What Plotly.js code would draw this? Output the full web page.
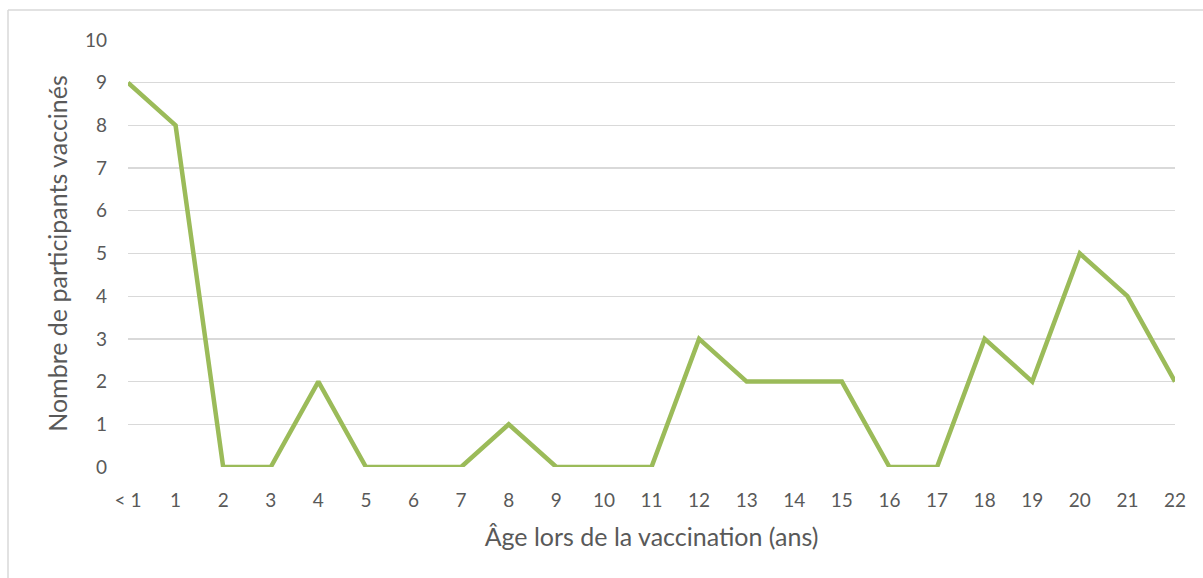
<!DOCTYPE html>
<html>
<head>
<meta charset="utf-8">
<script src="https://cdn.plot.ly/plotly-3.0.1.min.js"></script>
<style>
html,body{margin:0;padding:0;background:#fff;}
#chart{width:1203px;height:578px;}
</style>
</head>
<body>
<div id="chart"></div>
<script>
const categories = ["< 1","1","2","3","4","5","6","7","8","9","10","11","12","13","14","15","16","17","18","19","20","21","22"];
const values = [9,8,0,0,2,0,0,0,1,0,0,0,3,2,2,2,0,0,3,2,5,4,2];
const yTicks = [0,1,2,3,4,5,6,7,8,9,10];

const xPos = categories.map((c,i)=>i);
const font = "Lato, 'Open Sans', sans-serif";

const trace = {
  x: xPos, y: values, type: 'scatter', mode: 'lines',
  line: {color: '#9BBB59', width: 4.5, shape: 'linear'},
  hoverinfo: 'skip'
};

const layout = {
  width: 1203, height: 578,
  margin: {l:128, r:28, t:40, b:111, pad:0},
  paper_bgcolor: '#ffffff', plot_bgcolor: '#ffffff',
  showlegend: false,
  font: {family: font, color: '#595959', size: 19},
  xaxis: {
    range: [0, categories.length-1],
    tickvals: xPos, ticktext: categories,
    showgrid: false, zeroline: false, showline: false,
    ticks: '', ticklabelstandoff: 20,
    tickfont: {family: font, size: 19, color: '#595959'},
    title: {text: 'Âge lors de la vaccination (ans)', font: {family: font, size: 25, color: '#595959'}, standoff: 18},
    fixedrange: true
  },
  yaxis: {
    range: [0, 10],
    tickvals: yTicks,
    showgrid: true, gridcolor: '#d9d9d9', gridwidth: 1.3,
    zeroline: false, showline: false, ticks: '', ticklabelstandoff: 20,
    tickfont: {family: font, size: 19, color: '#595959'},
    title: {text: 'Nombre de participants vaccinés', font: {family: font, size: 25, color: '#595959'}, standoff: 10},
    fixedrange: true
  },
  shapes: [
    {type:'line', xref:'paper', yref:'paper', x0:(8-128)/1047, x1:(1300-128)/1047, y0:(467-10)/427, y1:(467-10)/427, line:{color:'#d9d9d9', width:1.5}},
    {type:'line', xref:'paper', yref:'paper', x0:(8-128)/1047, x1:(8-128)/1047, y0:(467-10)/427, y1:(467-700)/427, line:{color:'#d9d9d9', width:1.5}}
  ]
};

Plotly.newPlot('chart', [trace], layout, {displayModeBar:false, staticPlot:true});
</script>
</body>
</html>
